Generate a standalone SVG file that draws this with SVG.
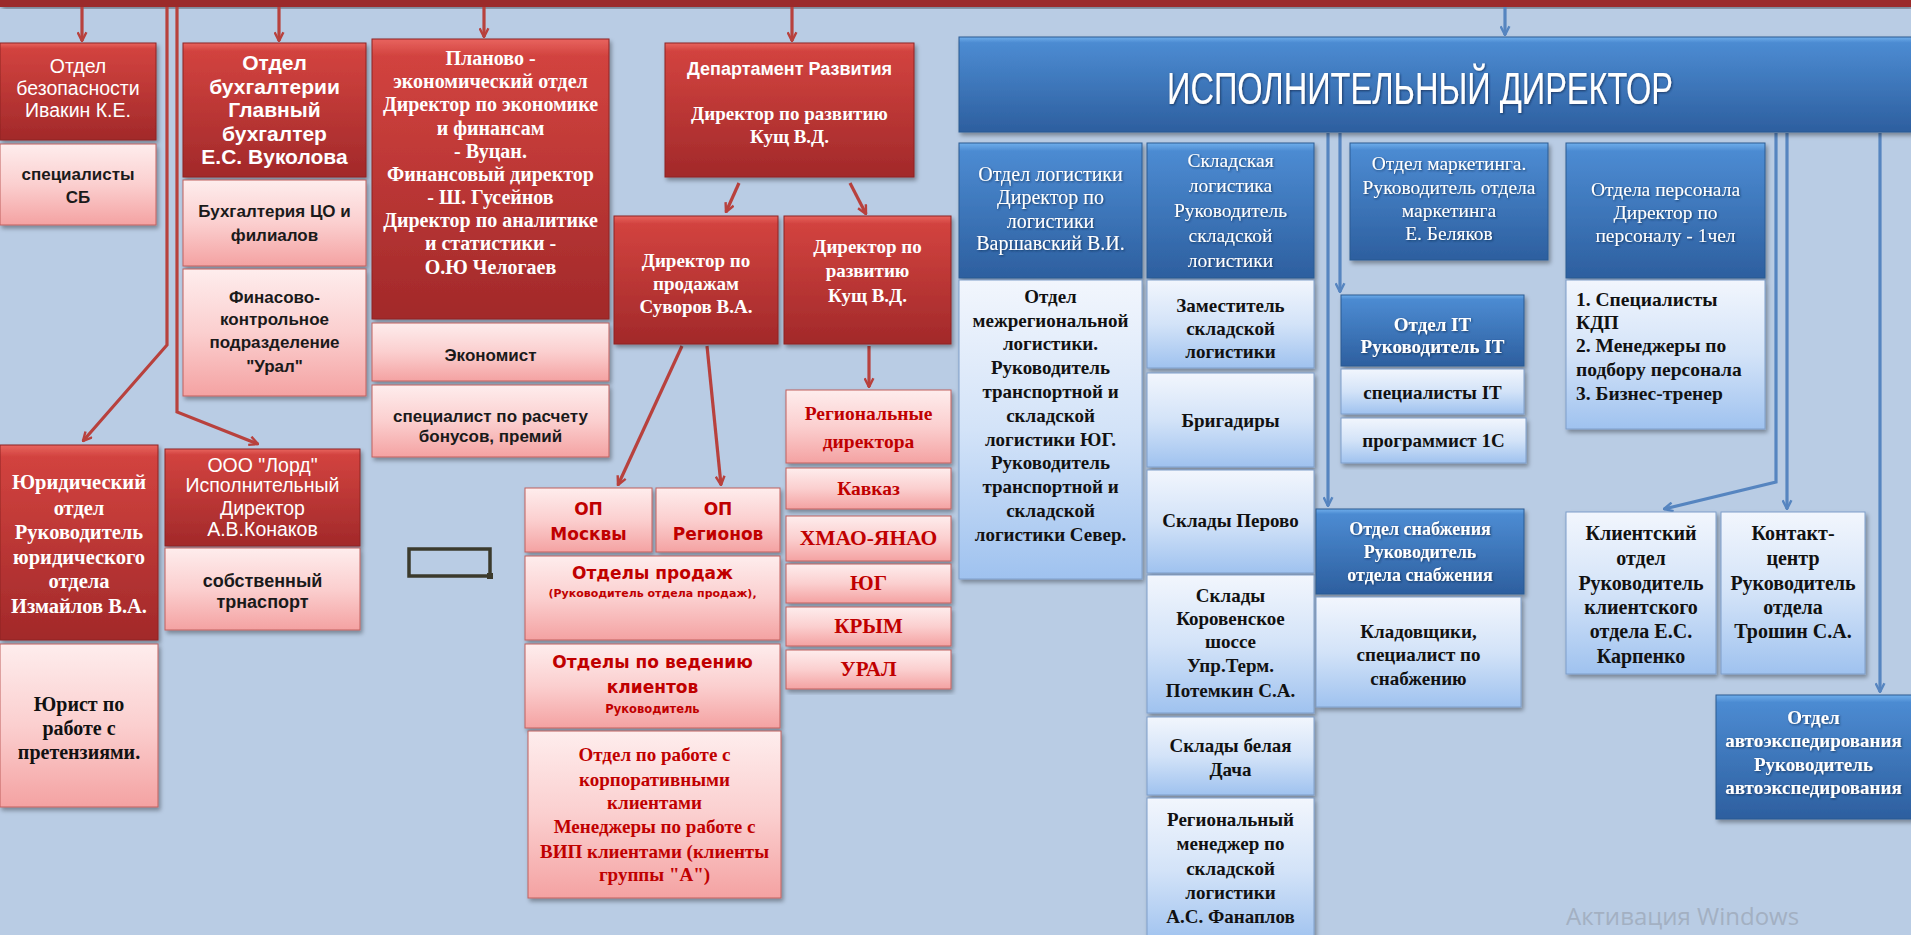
<svg xmlns="http://www.w3.org/2000/svg" width="1911" height="935" viewBox="0 0 1911 935">
<defs>
<linearGradient id="gR" x1="0" y1="0" x2="0" y2="1"><stop offset="0" stop-color="#E8645F"/><stop offset="0.06" stop-color="#D2433F"/><stop offset="1" stop-color="#A2292A"/></linearGradient>
<linearGradient id="gP" x1="0" y1="0" x2="0" y2="1"><stop offset="0" stop-color="#FEEDED"/><stop offset="0.5" stop-color="#FBCFCF"/><stop offset="1" stop-color="#F4A2A2"/></linearGradient>
<linearGradient id="gB" x1="0" y1="0" x2="0" y2="1"><stop offset="0" stop-color="#6FAEEB"/><stop offset="0.06" stop-color="#4C8BD2"/><stop offset="1" stop-color="#2D5F9F"/></linearGradient>
<linearGradient id="gL" x1="0" y1="0" x2="0" y2="1"><stop offset="0" stop-color="#F2F6FD"/><stop offset="0.5" stop-color="#D3E3F8"/><stop offset="1" stop-color="#9FC2EF"/></linearGradient>
<filter id="sh" x="-5%" y="-5%" width="115%" height="120%"><feDropShadow dx="2" dy="3" stdDeviation="2" flood-color="#000" flood-opacity="0.35"/></filter>
<filter id="ts" x="-5%" y="-20%" width="110%" height="140%"><feDropShadow dx="1" dy="1" stdDeviation="0.8" flood-color="#0b2345" flood-opacity="0.7"/></filter>
<marker id="ar" viewBox="0 0 10 10" refX="9" refY="5" markerWidth="11" markerHeight="11" markerUnits="userSpaceOnUse" orient="auto"><path d="M1,1 L9,5 L1,9" fill="none" stroke="#B8413D" stroke-width="2.2"/></marker>
<marker id="ab" viewBox="0 0 10 10" refX="9" refY="5" markerWidth="11" markerHeight="11" markerUnits="userSpaceOnUse" orient="auto"><path d="M1,1 L9,5 L1,9" fill="none" stroke="#5685C0" stroke-width="2.2"/></marker>
</defs>
<style>
.r{fill:url(#gR);stroke:#8E2422;stroke-width:1;filter:url(#sh)}
.p{fill:url(#gP);stroke:#C0605E;stroke-width:1;filter:url(#sh)}
.b{fill:url(#gB);stroke:#2B5A92;stroke-width:1;filter:url(#sh)}
.l{fill:url(#gL);stroke:#7E9EC9;stroke-width:1;filter:url(#sh)}
text{text-anchor:middle}
.ws{font-family:"Liberation Sans",Arial,sans-serif;fill:#fff}
.wsb{font-family:"Liberation Sans",Arial,sans-serif;fill:#fff;font-weight:bold}
.ks{font-family:"Liberation Sans",Arial,sans-serif;fill:#1a1a1a;font-weight:bold}
.rs{font-family:"DejaVu Sans",Verdana,sans-serif;fill:#C00000;font-weight:bold}
.wr{font-family:"Liberation Serif","Times New Roman",serif;fill:#fff;font-weight:bold}
.wrn{font-family:"Liberation Serif","Times New Roman",serif;fill:#fff;filter:url(#ts)}
.wrb{font-family:"Liberation Serif","Times New Roman",serif;fill:#fff;font-weight:bold;filter:url(#ts)}
.kr{font-family:"Liberation Serif","Times New Roman",serif;fill:#111;font-weight:bold}
.rr{font-family:"Liberation Serif","Times New Roman",serif;fill:#C00000;font-weight:bold}
.cr{fill:none;stroke:#B8413D;stroke-width:3.2}
.cb{fill:none;stroke:#5685C0;stroke-width:3.2}
</style>
<rect width="1911" height="935" fill="#B9CCE4"/>
<rect x="0" y="0" width="1911" height="7" fill="#9B2B2B" filter="url(#sh)"/>

<g id="connectors">
<path class="cr" d="M82,7 V41" marker-end="url(#ar)"/>
<path class="cr" d="M279,7 V41" marker-end="url(#ar)"/>
<path class="cr" d="M484,7 V37" marker-end="url(#ar)"/>
<path class="cr" d="M792,7 V41" marker-end="url(#ar)"/>
<path class="cr" d="M167,7 V345 L83,441" marker-end="url(#ar)"/>
<path class="cr" d="M177,7 V412 L258,444" marker-end="url(#ar)"/>
<path class="cr" d="M739,183 L726,212" marker-end="url(#ar)"/>
<path class="cr" d="M850,183 L866,214" marker-end="url(#ar)"/>
<path class="cr" d="M682,346 L618,485" marker-end="url(#ar)"/>
<path class="cr" d="M707,346 L721,485" marker-end="url(#ar)"/>
<path class="cr" d="M869,346 V387" marker-end="url(#ar)"/>
<path class="cb" d="M1505,7 V35" marker-end="url(#ab)"/>
<path class="cb" d="M1328,133 V506" marker-end="url(#ab)"/>
<path class="cb" d="M1340,133 V292" marker-end="url(#ab)"/>
<path class="cb" d="M1776,133 V482 L1664,509" marker-end="url(#ab)"/>
<path class="cb" d="M1787,133 V509" marker-end="url(#ab)"/>
<path class="cb" d="M1880,133 V692" marker-end="url(#ab)"/>
</g>

<g id="n-bez"><rect class="r" x="0" y="43" width="156" height="97"/>
<text class="ws" font-size="19.5"><tspan x="78" y="73">Отдел</tspan><tspan x="78" y="95">безопасности</tspan><tspan x="78" y="117">Ивакин К.Е.</tspan></text></g>
<g id="n-sb"><rect class="p" x="0" y="144" width="156" height="81"/>
<text class="ks" font-size="17"><tspan x="78" y="180">специалисты</tspan><tspan x="78" y="203">СБ</tspan></text></g>

<g id="n-buh"><rect class="r" x="183" y="43" width="183" height="134"/>
<text class="wsb" font-size="21"><tspan x="274.5" y="70">Отдел</tspan><tspan x="274.5" y="94">бухгалтерии</tspan><tspan x="274.5" y="117">Главный</tspan><tspan x="274.5" y="141">бухгалтер</tspan><tspan x="274.5" y="164">Е.С. Вуколова</tspan></text></g>
<g id="n-buh-co"><rect class="p" x="183" y="180" width="183" height="86"/>
<text class="ks" font-size="17"><tspan x="274.5" y="217">Бухгалтерия ЦО и</tspan><tspan x="274.5" y="241">филиалов</tspan></text></g>
<g id="n-fin-kontr"><rect class="p" x="183" y="269" width="183" height="127"/>
<text class="ks" font-size="17"><tspan x="274.5" y="303">Финасово-</tspan><tspan x="274.5" y="325">контрольное</tspan><tspan x="274.5" y="348">подразделение</tspan><tspan x="274.5" y="372">"Урал"</tspan></text></g>

<g id="n-plan"><rect class="r" x="372" y="39" width="237" height="280"/>
<text class="wr" font-size="20"><tspan x="490.5" y="65">Планово -</tspan><tspan x="490.5" y="88">экономический отдел</tspan><tspan x="490.5" y="111">Директор по экономике</tspan><tspan x="490.5" y="135">и финансам</tspan><tspan x="490.5" y="158">- Вуцан.</tspan><tspan x="490.5" y="181">Финансовый директор</tspan><tspan x="490.5" y="204">- Ш. Гусейнов</tspan><tspan x="490.5" y="227">Директор по аналитике</tspan><tspan x="490.5" y="250">и статистики -</tspan><tspan x="490.5" y="274">О.Ю Челогаев</tspan></text></g>
<g id="n-econ"><rect class="p" x="372" y="323" width="237" height="58"/>
<text class="ks" font-size="17"><tspan x="490.5" y="361">Экономист</tspan></text></g>
<g id="n-bonus"><rect class="p" x="372" y="385" width="237" height="72"/>
<text class="ks" font-size="17"><tspan x="490.5" y="422">специалист по расчету</tspan><tspan x="490.5" y="442">бонусов, премий</tspan></text></g>

<g id="n-dep"><rect class="r" x="665" y="43" width="249" height="134"/>
<text class="wsb" font-size="18"><tspan x="789.5" y="75">Департамент Развития</tspan></text>
<text class="wr" font-size="19"><tspan x="789.5" y="120">Директор по развитию</tspan><tspan x="789.5" y="143">Кущ В.Д.</tspan></text></g>
<g id="n-sales-dir"><rect class="r" x="614" y="216" width="164" height="128"/>
<text class="wr" font-size="19"><tspan x="696" y="267">Директор по</tspan><tspan x="696" y="290">продажам</tspan><tspan x="696" y="313">Суворов В.А.</tspan></text></g>
<g id="n-dev-dir"><rect class="r" x="784" y="216" width="167" height="128"/>
<text class="wr" font-size="19"><tspan x="867.5" y="253">Директор по</tspan><tspan x="867.5" y="277">развитию</tspan><tspan x="867.5" y="302">Кущ В.Д.</tspan></text></g>

<g id="n-op-msk"><rect class="p" x="525" y="488" width="127" height="64"/>
<text class="rs" font-size="17"><tspan x="588.5" y="515">ОП</tspan><tspan x="588.5" y="540">Москвы</tspan></text></g>
<g id="n-op-reg"><rect class="p" x="656" y="488" width="124" height="64"/>
<text class="rs" font-size="17"><tspan x="718" y="515">ОП</tspan><tspan x="718" y="540">Регионов</tspan></text></g>
<g id="n-otd-prod"><rect class="p" x="525" y="556" width="255" height="84"/>
<text class="rs" font-size="17"><tspan x="652.5" y="579">Отделы продаж</tspan></text>
<text class="rs" font-size="11"><tspan x="652.5" y="597">(Руководитель отдела продаж),</tspan></text></g>
<g id="n-otd-klient"><rect class="p" x="525" y="644" width="255" height="84"/>
<text class="rs" font-size="17"><tspan x="652.5" y="668">Отделы по ведению</tspan><tspan x="652.5" y="693">клиентов</tspan></text>
<text class="rs" font-size="11.5"><tspan x="652.5" y="713">Руководитель</tspan></text></g>
<g id="n-corp"><rect class="p" x="528" y="731" width="253" height="167"/>
<text class="rr" font-size="19"><tspan x="654.5" y="761">Отдел по работе с</tspan><tspan x="654.5" y="786">корпоративными</tspan><tspan x="654.5" y="809">клиентами</tspan><tspan x="654.5" y="833">Менеджеры по работе с</tspan><tspan x="654.5" y="858">ВИП клиентами (клиенты</tspan><tspan x="654.5" y="881">группы "А")</tspan></text></g>

<g id="n-reg-dir"><rect class="p" x="786" y="390" width="165" height="73"/>
<text class="rr" font-size="19.5"><tspan x="868.5" y="420">Региональные</tspan><tspan x="868.5" y="448">директора</tspan></text></g>
<g id="n-kavkaz"><rect class="p" x="786" y="468" width="165" height="41"/>
<text class="rr" font-size="19.5"><tspan x="868.5" y="495">Кавказ</tspan></text></g>
<g id="n-hmao"><rect class="p" x="786" y="516" width="165" height="45"/>
<text class="rr" font-size="21.5"><tspan x="868.5" y="545">ХМАО-ЯНАО</tspan></text></g>
<g id="n-yug"><rect class="p" x="786" y="564" width="165" height="39"/>
<text class="rr" font-size="21"><tspan x="868.5" y="590">ЮГ</tspan></text></g>
<g id="n-krym"><rect class="p" x="786" y="607" width="165" height="39"/>
<text class="rr" font-size="21"><tspan x="868.5" y="633">КРЫМ</tspan></text></g>
<g id="n-ural"><rect class="p" x="786" y="650" width="165" height="39"/>
<text class="rr" font-size="21"><tspan x="868.5" y="676">УРАЛ</tspan></text></g>

<g id="n-legal"><rect class="r" x="0" y="445" width="158" height="195"/>
<text class="wr" font-size="20.5"><tspan x="79" y="489">Юридический</tspan><tspan x="79" y="515">отдел</tspan><tspan x="79" y="539">Руководитель</tspan><tspan x="79" y="564">юридического</tspan><tspan x="79" y="588">отдела</tspan><tspan x="79" y="613">Измайлов В.А.</tspan></text></g>
<g id="n-jurist"><rect class="p" x="0" y="644" width="158" height="163"/>
<text class="kr" font-size="20"><tspan x="79" y="711">Юрист по</tspan><tspan x="79" y="735">работе с</tspan><tspan x="79" y="759">претензиями.</tspan></text></g>

<g id="n-lord"><rect class="r" x="165" y="449" width="195" height="97"/>
<text class="ws" font-size="19.5"><tspan x="262.5" y="472">ООО "Лорд"</tspan><tspan x="262.5" y="492">Исполнительный</tspan><tspan x="262.5" y="515">Директор</tspan><tspan x="262.5" y="536">А.В.Конаков</tspan></text></g>
<g id="n-transport"><rect class="p" x="165" y="548" width="195" height="82"/>
<text class="ks" font-size="18"><tspan x="262.5" y="587">собственный</tspan><tspan x="262.5" y="608">трнаспорт</tspan></text></g>

<g id="n-blank"><rect x="409" y="549" width="81" height="27" fill="none" stroke="#3B3A2C" stroke-width="3.5"/><rect x="487" y="573" width="6" height="6" fill="#3B3A2C"/></g>

<g id="n-exec"><rect class="b" x="959" y="37" width="960" height="95"/>
<text font-family="'Liberation Sans Narrow','Liberation Sans',Arial,sans-serif" font-size="44" fill="#fff" x="1420" y="104" textLength="506" lengthAdjust="spacingAndGlyphs" filter="url(#ts)">ИСПОЛНИТЕЛЬНЫЙ ДИРЕКТОР</text></g>

<g id="n-log"><rect class="b" x="959" y="143" width="183" height="135"/>
<text class="wrn" font-size="20"><tspan x="1050.5" y="181">Отдел логистики</tspan><tspan x="1050.5" y="204">Директор по</tspan><tspan x="1050.5" y="228">логистики</tspan><tspan x="1050.5" y="250">Варшавский В.И.</tspan></text></g>
<g id="n-mezhreg"><rect class="l" x="959" y="280" width="183" height="299"/>
<text class="kr" font-size="19"><tspan x="1050.5" y="303">Отдел</tspan><tspan x="1050.5" y="327">межрегиональной</tspan><tspan x="1050.5" y="350">логистики.</tspan><tspan x="1050.5" y="374">Руководитель</tspan><tspan x="1050.5" y="398">транспортной и</tspan><tspan x="1050.5" y="422">складской</tspan><tspan x="1050.5" y="446">логистики ЮГ.</tspan><tspan x="1050.5" y="469">Руководитель</tspan><tspan x="1050.5" y="493">транспортной и</tspan><tspan x="1050.5" y="517">складской</tspan><tspan x="1050.5" y="541">логистики Север.</tspan></text></g>

<g id="n-sklad"><rect class="b" x="1147" y="143" width="167" height="135"/>
<text class="wrn" font-size="19.5"><tspan x="1230.5" y="167">Складская</tspan><tspan x="1230.5" y="192">логистика</tspan><tspan x="1230.5" y="217">Руководитель</tspan><tspan x="1230.5" y="242">складской</tspan><tspan x="1230.5" y="267">логистики</tspan></text></g>
<g id="n-zam"><rect class="l" x="1147" y="280" width="167" height="88"/>
<text class="kr" font-size="19"><tspan x="1230.5" y="312">Заместитель</tspan><tspan x="1230.5" y="335">складской</tspan><tspan x="1230.5" y="358">логистики</tspan></text></g>
<g id="n-brig"><rect class="l" x="1147" y="373" width="167" height="94"/>
<text class="kr" font-size="19"><tspan x="1230.5" y="427">Бригадиры</tspan></text></g>
<g id="n-perovo"><rect class="l" x="1147" y="470" width="167" height="103"/>
<text class="kr" font-size="19"><tspan x="1230.5" y="527">Склады Перово</tspan></text></g>
<g id="n-korov"><rect class="l" x="1147" y="575" width="167" height="138"/>
<text class="kr" font-size="19"><tspan x="1230.5" y="602">Склады</tspan><tspan x="1230.5" y="625">Коровенское</tspan><tspan x="1230.5" y="648">шоссе</tspan><tspan x="1230.5" y="672">Упр.Терм.</tspan><tspan x="1230.5" y="697">Потемкин С.А.</tspan></text></g>
<g id="n-belaya"><rect class="l" x="1147" y="717" width="167" height="78"/>
<text class="kr" font-size="19"><tspan x="1230.5" y="752">Склады белая</tspan><tspan x="1230.5" y="776">Дача</tspan></text></g>
<g id="n-regman"><rect class="l" x="1147" y="798" width="167" height="145"/>
<text class="kr" font-size="19"><tspan x="1230.5" y="826">Региональный</tspan><tspan x="1230.5" y="850">менеджер по</tspan><tspan x="1230.5" y="875">складской</tspan><tspan x="1230.5" y="899">логистики</tspan><tspan x="1230.5" y="923">А.С. Фанаплов</tspan></text></g>

<g id="n-market"><rect class="b" x="1350" y="143" width="198" height="117"/>
<text class="wrn" font-size="19.5"><tspan x="1449" y="170">Отдел маркетинга.</tspan><tspan x="1449" y="194">Руководитель отдела</tspan><tspan x="1449" y="217">маркетинга</tspan><tspan x="1449" y="240">Е. Беляков</tspan></text></g>
<g id="n-it"><rect class="b" x="1341" y="295" width="183" height="71"/>
<text class="wrb" font-size="19"><tspan x="1432.5" y="331">Отдел  IT</tspan><tspan x="1432.5" y="353">Руководитель IT</tspan></text></g>
<g id="n-it-spec"><rect class="l" x="1341" y="369" width="183" height="45"/>
<text class="kr" font-size="19"><tspan x="1432.5" y="399">специалисты  IT</tspan></text></g>
<g id="n-1c"><rect class="l" x="1341" y="418" width="185" height="45"/>
<text class="kr" font-size="19"><tspan x="1433.5" y="447">программист 1С</tspan></text></g>
<g id="n-snab"><rect class="b" x="1316" y="509" width="208" height="85"/>
<text class="wrb" font-size="18"><tspan x="1420" y="535">Отдел снабжения</tspan><tspan x="1420" y="558">Руководитель</tspan><tspan x="1420" y="581">отдела снабжения</tspan></text></g>
<g id="n-kladov"><rect class="l" x="1316" y="597" width="205" height="110"/>
<text class="kr" font-size="19"><tspan x="1418.5" y="638">Кладовщики,</tspan><tspan x="1418.5" y="661">специалист по</tspan><tspan x="1418.5" y="685">снабжению</tspan></text></g>

<g id="n-pers"><rect class="b" x="1566" y="143" width="199" height="135"/>
<text class="wrn" font-size="19.5"><tspan x="1665.5" y="196">Отдела персонала</tspan><tspan x="1665.5" y="219">Директор по</tspan><tspan x="1665.5" y="242">персоналу - 1чел</tspan></text></g>
<g id="n-pers-list"><rect class="l" x="1566" y="280" width="199" height="149"/>
<text class="kr" font-size="19.5" style="text-anchor:start"><tspan x="1576" y="306">1. Специалисты</tspan><tspan x="1576" y="329">КДП</tspan><tspan x="1576" y="352">2. Менеджеры по</tspan><tspan x="1576" y="376">подбору персонала</tspan><tspan x="1576" y="400">3. Бизнес-тренер</tspan></text></g>

<g id="n-klient"><rect class="l" x="1566" y="512" width="150" height="162"/>
<text class="kr" font-size="20"><tspan x="1641" y="540">Клиентский</tspan><tspan x="1641" y="565">отдел</tspan><tspan x="1641" y="590">Руководитель</tspan><tspan x="1641" y="614">клиентского</tspan><tspan x="1641" y="638">отдела  Е.С.</tspan><tspan x="1641" y="663">Карпенко</tspan></text></g>
<g id="n-contact"><rect class="l" x="1721" y="512" width="144" height="162"/>
<text class="kr" font-size="20"><tspan x="1793" y="540">Контакт-</tspan><tspan x="1793" y="565">центр</tspan><tspan x="1793" y="590">Руководитель</tspan><tspan x="1793" y="614">отдела</tspan><tspan x="1793" y="638">Трошин С.А.</tspan></text></g>
<g id="n-avto"><rect class="b" x="1716" y="695" width="200" height="124"/>
<text class="wrb" font-size="19"><tspan x="1813.5" y="724">Отдел</tspan><tspan x="1813.5" y="747">автоэкспедирования</tspan><tspan x="1813.5" y="771">Руководитель</tspan><tspan x="1813.5" y="794">автоэкспедирования</tspan></text></g>

<text x="1566" y="925" font-family="'Open Sans','Noto Sans',sans-serif" font-size="24" fill="#A3B0C2" style="text-anchor:start">Активация Windows</text>
</svg>
